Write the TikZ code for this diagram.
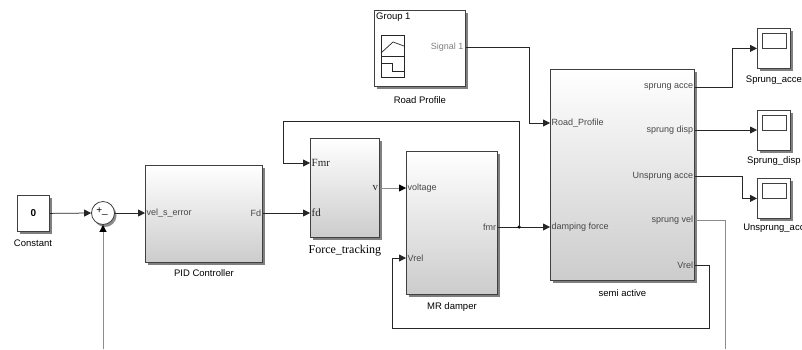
\documentclass[tikz,border=0pt]{standalone}
\usepackage{fontspec}
\setmainfont{Liberation Sans}
\newfontfamily\tmsfont{Liberation Serif}
\usetikzlibrary{arrows.meta,calc}
\newcommand\mkblock[6]{%
  \fill[black!50] (#3+2.5,#4+2.5) rectangle (#5+2.5,#6+2.5);
  \node[#2, minimum width=#5-#3, minimum height=#6-#4] (#1) at (#3,#4) {};}
\begin{document}
\begin{tikzpicture}[x=1pt,y=-1pt,
  blk/.style={draw=black!75, line width=0.8pt, inner sep=0pt, anchor=north west, top color=white, bottom color=black!20},
  wblk/.style={draw=black!75, line width=0.8pt, inner sep=0pt, anchor=north west, fill=white},
  sig/.style={line width=0.75pt, draw=black!85},
  gsig/.style={line width=0.75pt, draw=black!45},
  arr/.style={sig, -{Triangle[length=7pt,width=7pt]}},
  garr/.style={gsig, -{Triangle[length=7pt,width=7pt,color=black]}},
  port/.style={font=\fontsize{9}{10}\selectfont, text=black!72, inner sep=1.5pt},
  sport/.style={font=\tmsfont\fontsize{11}{12}\selectfont, text=black!85, inner sep=1.5pt},
  lbl/.style={font=\fontsize{9.5}{10}\selectfont, inner sep=0pt},
  dotn/.style={circle, fill=black, inner sep=0pt, minimum size=3.5pt},
]
\useasboundingbox (0,0) rectangle (802,349);
\clip (0,0) rectangle (802,349);
\fill[white] (0,0) rectangle (802,349);

% blocks
\mkblock{const}{wblk}{17}{195}{49}{231}
\mkblock{pid}{blk}{145}{165}{262}{262}
\mkblock{ft}{blk}{310}{138}{379}{237}
\mkblock{mr}{blk}{406}{151}{497}{294}
\mkblock{semi}{blk}{550}{69}{694}{280}
\mkblock{road}{wblk}{374}{10}{465}{86}
\mkblock{sc1}{wblk}{757}{28}{790}{68}
\mkblock{sc2}{wblk}{757}{110}{790}{150}
\mkblock{sc3}{wblk}{757}{178}{790}{218}

% sum
\fill[black!45] (105,215.5) circle (11.5);
\node[circle, draw=black!75, line width=0.8pt, fill=white, minimum size=23pt, inner sep=0pt] (sum) at (103,213) {};
\node[font=\fontsize{10}{11}\selectfont, inner sep=0pt] (sumtxt) at (102,212) {+\_};

% constant text
\node[font=\fontsize{10}{11}\selectfont\bfseries, inner sep=0pt] (ctxt) at (const.center) {0};

% scope screens
\foreach \s in {sc1,sc2,sc3}{
  \draw[black!75, line width=0.8pt] ($(\s.north west)+(5,5)$) rectangle ($(\s.north east)+(-4,20)$);
}

% road profile icon
\node[lbl, anchor=north west] (grp) at (376,13) {Group 1};
\draw[black!85, line width=0.7pt] (381,35) rectangle (404,77);
\draw[black!85, line width=0.7pt] (381,56) -- (404,56);
\draw[black!85, line width=0.7pt] (381,53) -- (393,42) -- (404,46);
\draw[black!85, line width=0.7pt] (381,63) -- (392,63) -- (392,71) -- (404,71);
\node[port, text=black!50, anchor=east] (sig1) at (465,47) {Signal 1};

% port coordinates
\coordinate (pidin) at (pid.west |- sum.east);
\coordinate (pidout) at (pid.east |- sum.east);
\coordinate (ftfd) at (ft.west |- sum.east);
\coordinate (ftfmr) at (ft.west |- 0,163);
\coordinate (ftv) at (ft.east |- 0,188);
\coordinate (mrvolt) at (mr.west |- 0,188);
\coordinate (mrvrel) at (mr.west |- 0,258);
\coordinate (mrfmr) at (mr.east |- 0,227);
\coordinate (semidf) at (semi.west |- 0,227);
\coordinate (semirp) at (semi.west |- 0,123);
\coordinate (s1) at (semi.east |- 0,87);
\coordinate (s2) at (semi.east |- 0,130);
\coordinate (s3) at (semi.east |- 0,176);
\coordinate (s4) at (semi.east |- 0,220);
\coordinate (s5) at (semi.east |- 0,265);
\coordinate (roadout) at (road.east |- 0,47);

% port labels
\node[port, anchor=west] (l1) at (pidin) {vel\_s\_error};
\node[port, anchor=east] (l2) at (pidout) {Fd};
\node[sport, anchor=west] (l3) at (ftfmr) {Fmr};
\node[sport, anchor=west] (l4) at (ftfd) {fd};
\node[sport, anchor=east] (l5) at (ftv) {v};
\node[port, anchor=west] (l6) at (mrvolt) {voltage};
\node[port, anchor=west] (l7) at (mrvrel) {Vrel};
\node[port, anchor=east] (l8) at (mrfmr) {fmr};
\node[port, anchor=west] (l9) at (semirp) {Road\_Profile};
\node[port, anchor=west] (l10) at (semidf) {damping force};
\node[port, anchor=east] (l11) at (s1) {sprung acce};
\node[port, anchor=east] (l12) at (s2) {sprung disp};
\node[port, anchor=east] (l13) at (s3) {Unsprung acce};
\node[port, anchor=east] (l14) at (s4) {sprung vel};
\node[port, anchor=east] (l15) at (s5) {Vrel};

% block labels
\node[lbl] (n1) at (33,243) {Constant};
\node[lbl] (n2) at (pid.south |- 0,273) {PID Controller};
\node[lbl, font=\tmsfont\fontsize{12}{13}\selectfont] (n3) at (ft.south |- 0,251) {Force\_tracking};
\node[lbl] (n4) at (mr.south |- 0,307) {MR damper};
\node[lbl] (n5) at (semi.south |- 0,293) {semi active};
\node[lbl] (n6) at (road.south |- 0,100) {Road Profile};
\node[lbl] (n7) at (sc1.south |- 0,80) {Sprung\_acce};
\node[lbl] (n8) at (sc2.south |- 0,161) {Sprung\_disp};
\node[lbl] (n9) at (sc3.south |- 0,228) {Unsprung\_acc};

% connectors
\coordinate (br) at (519,227);
\coordinate (lp) at (283,121);
\coordinate (rpx) at (529,123);
\coordinate (k1) at (732,87);
\coordinate (k3) at (742,176);
\coordinate (vr1) at (709,328);
\coordinate (vr2) at (392,328);
\coordinate (svend) at (725,349);
\coordinate (fbstart) at (103,349);

\draw[arr] (const.east) -- (sum.west);
\draw[garr] (fbstart) -- (sum.south);
\draw[arr] (sum.east) -- (pidin);
\draw[arr] (pidout) -- (ftfd);
\draw[garr] (ftv) -- (mrvolt);
\draw[arr] (mrfmr) -- (semidf);
\node[dotn] (brdot) at (br) {};
\draw[arr] (brdot.center) |- (lp) |- (ftfmr);
\draw[arr] (roadout) -| (rpx) -- (semirp);
\draw[arr] (s1) -- (k1) |- (sc1.west);
\draw[arr] (s2) -- (sc2.west |- s2);
\draw[arr] (s3) -- (k3) |- (sc3.west);
\draw[gsig] (s4) -| (svend);
\draw[arr] (s5) -| (vr1) -- (vr2) |- (mrvrel);
\end{tikzpicture}
\end{document}
